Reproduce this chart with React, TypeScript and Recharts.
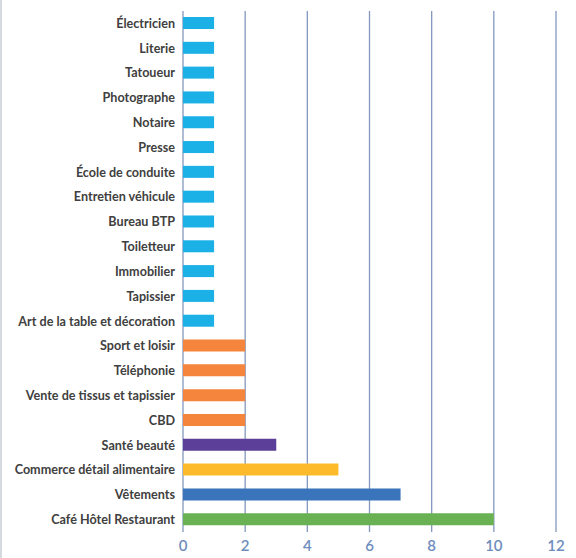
import { BarChart, Bar, Cell, XAxis, YAxis, CartesianGrid } from 'recharts';

const categories = [
  'Électricien',
  'Literie',
  'Tatoueur',
  'Photographe',
  'Notaire',
  'Presse',
  'École de conduite',
  'Entretien véhicule',
  'Bureau BTP',
  'Toiletteur',
  'Immobilier',
  'Tapissier',
  'Art de la table et décoration',
  'Sport et loisir',
  'Téléphonie',
  'Vente de tissus et tapissier',
  'CBD',
  'Santé beauté',
  'Commerce détail alimentaire',
  'Vêtements',
  'Café Hôtel Restaurant',
];

const counts = [1, 1, 1, 1, 1, 1, 1, 1, 1, 1, 1, 1, 1, 2, 2, 2, 2, 3, 5, 7, 10];

const barColors = [
  '#1bb0e6', '#1bb0e6', '#1bb0e6', '#1bb0e6', '#1bb0e6', '#1bb0e6', '#1bb0e6',
  '#1bb0e6', '#1bb0e6', '#1bb0e6', '#1bb0e6', '#1bb0e6', '#1bb0e6',
  '#f5843c', '#f5843c', '#f5843c', '#f5843c',
  '#5b3f99',
  '#fdbb2b',
  '#3a74ba',
  '#6ab153',
];

const xTicks = [0, 2, 4, 6, 8, 10, 12];

const chartData = categories.map((name, i) => ({
  name,
  value: counts[i],
  color: barColors[i],
}));

const CategoryTick = ({ x, y, payload }: any) => (
  <text
    x={x}
    y={y}
    dy="0.35em"
    textAnchor="end"
    fill="#404040"
    fontSize={12.6}
    fontFamily="Lato"
    fontWeight={700}
  >
    {payload.value}
  </text>
);

export default function App() {
  return (
    <div
      style={{
        position: 'absolute',
        left: 0,
        top: 0,
        width: 576,
        height: 558,
        background: '#fff',
        boxSizing: 'border-box',
        borderLeft: '2px solid #d5dae0',
      }}
    >
      <BarChart
        width={574}
        height={558}
        data={chartData}
        layout="vertical"
        margin={{ top: 11, right: 20, bottom: 0, left: 0 }}
      >
        <CartesianGrid horizontal={false} stroke="#8298bd" strokeWidth={1.3} />
        <XAxis
          type="number"
          domain={[0, 12]}
          ticks={xTicks}
          axisLine={false}
          tickLine={false}
          height={26}
          interval={0}
          tick={{ fill: '#6e8dbd', fontSize: 15, fontFamily: 'Lato', fontWeight: 600 }}
        />
        <YAxis
          type="category"
          dataKey="name"
          width={181}
          axisLine={false}
          tickLine={false}
          interval={0}
          tick={<CategoryTick />}
        />
        <Bar dataKey="value" isAnimationActive={false} barSize={12}>
          {chartData.map((entry, index) => (
            <Cell key={`cell-${index}`} fill={entry.color} />
          ))}
        </Bar>
      </BarChart>
    </div>
  );
}
